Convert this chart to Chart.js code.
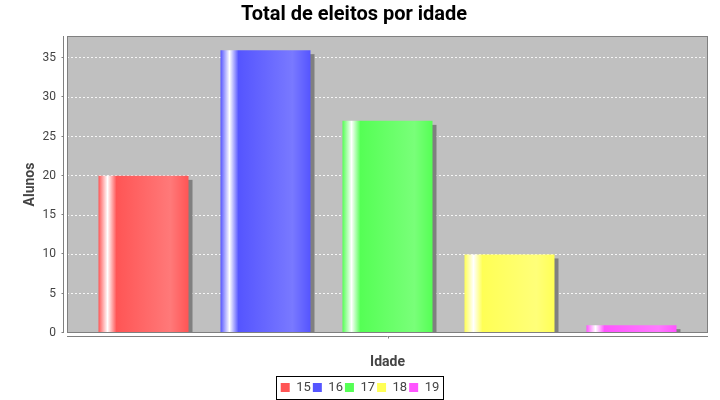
<!DOCTYPE html>
<html><head><meta charset="utf-8">
<script src="https://cdn.jsdelivr.net/npm/chart.js@4/dist/chart.umd.min.js"></script>
<style>html,body{margin:0;padding:0;background:#fff}#wrap{width:720px;height:400px}</style>
</head><body><div id="wrap"><canvas id="c" width="720" height="400"></canvas></div>
<script>
const categories = [''];
const seriesLabels = ['15', '16', '17', '18', '19'];
const seriesValues = [20, 36, 27, 10, 1];
const seriesColors = ['#FF5555', '#5555FF', '#55FF55', '#FFFF55', '#FF55FF'];
const seriesBright = ['#FF7979', '#7979FF', '#79FF79', '#FFFF79', '#FF79FF'];
const yTickStep = 5;
const yMax = 37.8;

const PLOT_BOTTOM = 333;
const PAD_BOTTOM = -4;
const LEGEND_SHIFT = 6;

const bgPlugin = {
  id: 'plotStyle',
  afterLayout(chart) {
    if (chart.legend) {
      chart.legend.left += LEGEND_SHIFT;
      chart.legend.right += LEGEND_SHIFT;
    }
  },
  beforeDraw(chart) {
    const a = chart.chartArea, ctx = chart.ctx;
    ctx.save();
    ctx.fillStyle = '#C0C0C0';
    ctx.fillRect(a.left, a.top, a.right - a.left, a.bottom - a.top);
    ctx.restore();
  },
  beforeDatasetsDraw(chart) {
    const a = chart.chartArea, ctx = chart.ctx;
    ctx.save();
    ctx.beginPath();
    ctx.rect(a.left, a.top, a.right - a.left, a.bottom - a.top);
    ctx.clip();
    ctx.fillStyle = '#808080';
    chart.data.datasets.forEach((ds, i) => {
      const meta = chart.getDatasetMeta(i);
      meta.data.forEach(el => {
        const w = el.width, x0 = el.x - w / 2;
        const top = Math.min(el.y, el.base), bot = Math.max(el.y, el.base);
        ctx.fillRect(x0 + 4, top + 4, w, bot - top);
        const g = ctx.createLinearGradient(x0, 0, x0 + w, 0);
        g.addColorStop(0, seriesColors[i]);
        g.addColorStop(0.10, '#FFFFFF');
        g.addColorStop(0.20, seriesColors[i]);
        g.addColorStop(0.80, seriesBright[i]);
        g.addColorStop(1, seriesColors[i]);
        el.options = Object.assign({}, el.options, {backgroundColor: g, borderWidth: 0});
      });
    });
    ctx.restore();
  },
  afterDatasetsDraw(chart) {
    const a = chart.chartArea, ctx = chart.ctx;
    ctx.save();
    ctx.strokeStyle = '#808080';
    ctx.lineWidth = 1;
    ctx.strokeRect(a.left + 0.5, a.top + 0.5, a.right - a.left - 1, a.bottom - a.top - 1);
    const yAx = chart.scales.y;
    const ax = a.left - 3.5;
    ctx.beginPath();
    ctx.moveTo(ax, a.top);
    ctx.lineTo(ax, a.bottom);
    yAx.ticks.forEach(t => {
      const p = Math.round(yAx.getPixelForValue(t.value)) - 0.5;
      ctx.moveTo(ax - 2, p);
      ctx.lineTo(ax, p);
    });
    const ay = a.bottom + 3.5;
    ctx.moveTo(a.left, ay);
    ctx.lineTo(a.right, ay);
    const xAx = chart.scales.x;
    const cx = Math.round(xAx.getPixelForValue(0)) + 0.5;
    ctx.moveTo(cx, ay);
    ctx.lineTo(cx, ay + 2);
    ctx.stroke();
    ctx.restore();
  },
  afterDraw(chart) {
    const lg = chart.legend;
    if (!lg || !lg.legendHitBoxes || !lg.legendHitBoxes.length) return;
    const hb = lg.legendHitBoxes;
    let l = Infinity, r = -Infinity, t = Infinity, b = -Infinity;
    hb.forEach(h => { l = Math.min(l, h.left); r = Math.max(r, h.left + h.width); t = Math.min(t, h.top); b = Math.max(b, h.top + h.height); });
    const ctx = chart.ctx;
    ctx.save();
    ctx.strokeStyle = '#000';
    ctx.lineWidth = 1;
    const cy = (t + b) / 2;
    ctx.strokeRect(Math.round(l - 5) + 0.5, Math.round(cy - 12) + 0.5, Math.round(r - l + 8), 23);
    ctx.restore();
  }
};

new Chart(document.getElementById('c'), {
  type: 'bar',
  data: {
    labels: categories,
    datasets: seriesLabels.map((lab, i) => ({
      label: lab,
      data: [seriesValues[i]],
      backgroundColor: seriesColors[i],
      borderWidth: 0,
      categoryPercentage: 0.9516,
      barPercentage: 0.7377
    }))
  },
  options: {
    responsive: false,
    animation: false,
    layout: {padding: {left: 0, right: 12, top: 0, bottom: PAD_BOTTOM}},
    plugins: {
      title: {
        display: true,
        text: 'Total de eleitos por idade',
        font: {family: 'Roboto', size: 20, weight: 'bold'},
        color: '#000',
        padding: {top: 3, bottom: 9}
      },
      legend: {
        position: 'bottom',
        labels: {
          boxWidth: 9, boxHeight: 9,
          font: {family: 'Roboto', size: 13},
          color: '#444',
          padding: 2
        }
      },
      tooltip: {enabled: false}
    },
    scales: {
      x: {
        grid: {display: false, drawTicks: false},
        border: {display: false},
        ticks: {display: false},
        title: {
          display: true, text: 'Idade',
          font: {family: 'Roboto', size: 14, weight: 'bold'},
          color: '#444',
          padding: {top: 0, bottom: 8}
        },
        afterFit(s) {
          const ch = s.chart;
          const lh = ch.legend ? ch.legend.height : 0;
          s.height = ch.height - PAD_BOTTOM - lh - PLOT_BOTTOM;
        }
      },
      y: {
        min: 0, max: yMax,
        ticks: {
          stepSize: yTickStep, includeBounds: false,
          font: {family: 'Roboto', size: 12},
          color: '#444',
          padding: 11
        },
        grid: {drawTicks: false, color: 'rgba(255,255,255,0.85)', lineWidth: 1},
        border: {display: false, dash: [2, 2]},
        title: {
          display: true, text: 'Alunos',
          font: {family: 'Roboto', size: 14, weight: 'bold'},
          color: '#444',
          padding: {top: 22, bottom: 0}
        },
        afterFit(s) { s.width = 67; }
      }
    }
  },
  plugins: [bgPlugin]
});
</script>
</body></html>
